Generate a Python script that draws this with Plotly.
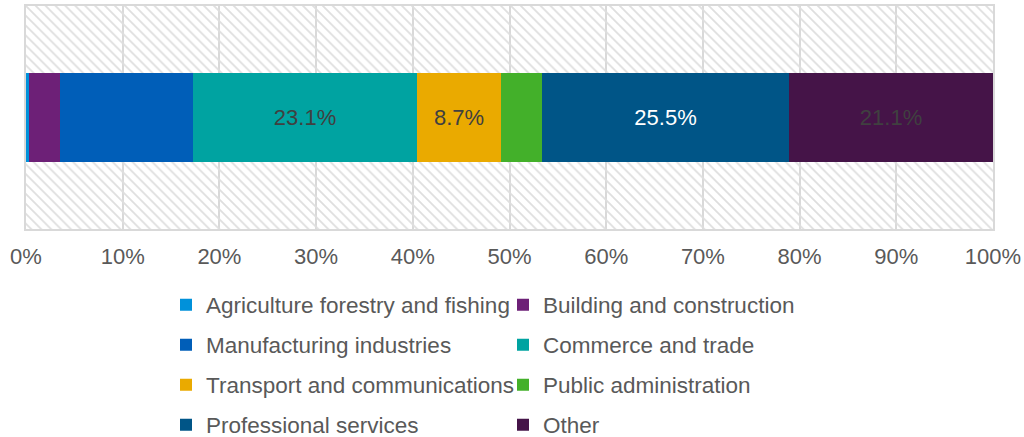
import plotly.graph_objects as go

# Share of employment by sector (%), one stacked horizontal bar
sectors = [
    "Agriculture forestry and fishing",
    "Building and construction",
    "Manufacturing industries",
    "Commerce and trade",
    "Transport and communications",
    "Public administration",
    "Professional services",
    "Other",
]
shares = [0.3, 3.2, 13.8, 23.1, 8.7, 4.3, 25.5, 21.1]
colors = ["#0091DA", "#6D2077", "#005EB8", "#00A3A1",
          "#EAAA00", "#43B02A", "#005587", "#451448"]
# which segments carry a value label, and in what colour
label_shown = [False, False, False, True, True, False, True, True]
label_colors = ["#404040", "#404040", "#404040", "#404040",
                "#404040", "#404040", "#FFFFFF", "#404040"]

tick_values = [0, 10, 20, 30, 40, 50, 60, 70, 80, 90, 100]
tick_labels = ["0%", "10%", "20%", "30%", "40%", "50%",
               "60%", "70%", "80%", "90%", "100%"]

FONT = "Liberation Sans, Arial, sans-serif"
GREY_TEXT = "#595959"
GRID = "#D9D9D9"

# legend rows: two entries per row, one legend per row
legend_ids = ["legend", "legend", "legend2", "legend2",
              "legend3", "legend3", "legend4", "legend4"]

fig = go.Figure()

# hatched plot-area background
fig.add_trace(go.Bar(
    y=[0], x=[tick_values[-1]], base=[tick_values[0]], orientation="h",
    width=1, xaxis="x", yaxis="y",
    marker=dict(color="#DEDEDE", line=dict(width=0),
                pattern=dict(shape="\\", size=7, solidity=0.25, fillmode="replace")),
    showlegend=False, hoverinfo="skip",
))

for name, val, col, show, tcol, lg in zip(sectors, shares, colors,
                                          label_shown, label_colors, legend_ids):
    fig.add_trace(go.Bar(
        y=[0], x=[val], name=name, orientation="h", width=0.4,
        xaxis="x", yaxis="y2",
        marker=dict(color=col, line=dict(width=0)),
        text=[f"{val:.1f}%" if show else ""],
        textposition="inside", insidetextanchor="middle", textangle=0,
        insidetextfont=dict(family=FONT, size=22, color=tcol),
        legend=lg,
    ))

PLOT_L, PLOT_R, PLOT_T, PLOT_B = 26, 993, 6, 229
W, H = 1024, 437
row_centers = [305, 345, 385, 425]
legend_left_px = 166


def legend_cfg(yc):
    return dict(
        orientation="h", entrywidth=292, entrywidthmode="pixels",
        x=(legend_left_px - PLOT_L) / (PLOT_R - PLOT_L), xanchor="left",
        y=(PLOT_B - yc) / (PLOT_B - PLOT_T), yanchor="middle",
        font=dict(family=FONT, size=22.5, color=GREY_TEXT),
        bgcolor="rgba(0,0,0,0)", borderwidth=0, traceorder="normal",
    )


fig.update_layout(
    width=W, height=H,
    margin=dict(l=PLOT_L, r=W - PLOT_R, t=PLOT_T, b=H - PLOT_B, autoexpand=False),
    paper_bgcolor="white", plot_bgcolor="white",
    barmode="stack", bargap=0,
    font=dict(family=FONT, color=GREY_TEXT),
    xaxis=dict(
        range=[tick_values[0], tick_values[-1]], tickvals=tick_values,
        ticktext=tick_labels, showgrid=True, gridcolor=GRID, gridwidth=1.5,
        zeroline=False, showline=True, linecolor=GRID, linewidth=2, mirror=True,
        ticks="", tickfont=dict(family=FONT, size=22, color=GREY_TEXT),
        ticklabelstandoff=7, fixedrange=True,
    ),
    yaxis=dict(range=[-0.5, 0.5], showticklabels=False, showgrid=False,
               zeroline=False, showline=True, linecolor=GRID, linewidth=2,
               mirror=True, fixedrange=True),
    yaxis2=dict(range=[-0.5, 0.5], overlaying="y", showticklabels=False,
                showgrid=False, zeroline=False, fixedrange=True),
    legend=legend_cfg(row_centers[0]),
    legend2=legend_cfg(row_centers[1]),
    legend3=legend_cfg(row_centers[2]),
    legend4=legend_cfg(row_centers[3]),
    showlegend=True,
)

fig.write_html("out.html")
